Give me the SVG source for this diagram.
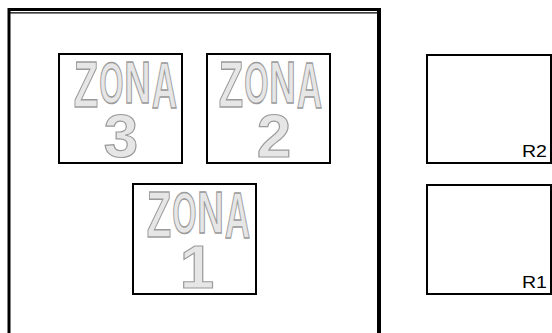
<svg xmlns="http://www.w3.org/2000/svg" xmlns:xlink="http://www.w3.org/1999/xlink" width="552" height="333" viewBox="0 0 552 333">
  <style>
    .box { fill: #ffffff; stroke: #000000; stroke-width: 2; }
    .frame { stroke: #000000; fill: none; }
    .zl { font-family: "Liberation Sans", Arial, sans-serif; font-weight: bold; font-size: 40px; fill: #e6e6e6; stroke: #9a9a9a; stroke-width: 1.2; text-anchor: middle; }
    .num { font-family: "Liberation Sans", Arial, sans-serif; font-weight: bold; font-size: 62px; fill: #e6e6e6; stroke: #9a9a9a; stroke-width: 1.2; text-anchor: middle; }
    .lbl { font-family: "Liberation Sans", Arial, sans-serif; font-size: 16px; fill: #000000; }
  </style>
  <defs>
    <g id="zona">
      <text class="zl" vector-effect="non-scaling-stroke" transform="translate(14,47) scale(1.0,1.6)">Z</text>
      <text class="zl" vector-effect="non-scaling-stroke" transform="translate(39.5,43) scale(0.78,1.45)">O</text>
      <text class="zl" vector-effect="non-scaling-stroke" transform="translate(65.5,43) scale(0.92,1.47)">N</text>
      <text class="zl" vector-effect="non-scaling-stroke" transform="translate(92.5,48) scale(0.88,1.62)">A</text>
    </g>
  </defs>
  <rect width="552" height="333" fill="#ffffff"/>

  <g id="frame">
    <line class="frame" x1="9" y1="8" x2="9" y2="333" stroke-width="3"/>
    <line class="frame" x1="379" y1="8" x2="379" y2="333" stroke-width="4"/>
    <line class="frame" x1="8" y1="9.5" x2="381" y2="9.5" stroke-width="3"/>
    <line class="frame" x1="10" y1="12.8" x2="378" y2="12.8" stroke-width="1.2"/>
  </g>

  <g id="zona3">
    <rect class="box" x="59" y="54" width="123" height="109"/>
    <use xlink:href="#zona" transform="translate(72,60)"/>
    <text class="num" x="121" y="157">3</text>
  </g>

  <g id="zona2">
    <rect class="box" x="207" y="54" width="123" height="109"/>
    <use xlink:href="#zona" transform="translate(217,60)"/>
    <text class="num" x="274" y="157">2</text>
  </g>

  <g id="zona1">
    <rect class="box" x="133" y="184" width="123" height="110"/>
    <use xlink:href="#zona" transform="translate(145,190)"/>
    <text class="num" x="197" y="288">1</text>
  </g>

  <g id="r2">
    <rect class="box" x="427" y="55" width="124" height="108"/>
    <text class="lbl" x="522" y="157" textLength="25" lengthAdjust="spacingAndGlyphs">R2</text>
  </g>

  <g id="r1">
    <rect class="box" x="427" y="185" width="124" height="109"/>
    <text class="lbl" x="522" y="288" textLength="25" lengthAdjust="spacingAndGlyphs">R1</text>
  </g>

  <g id="connectors"/>
</svg>
